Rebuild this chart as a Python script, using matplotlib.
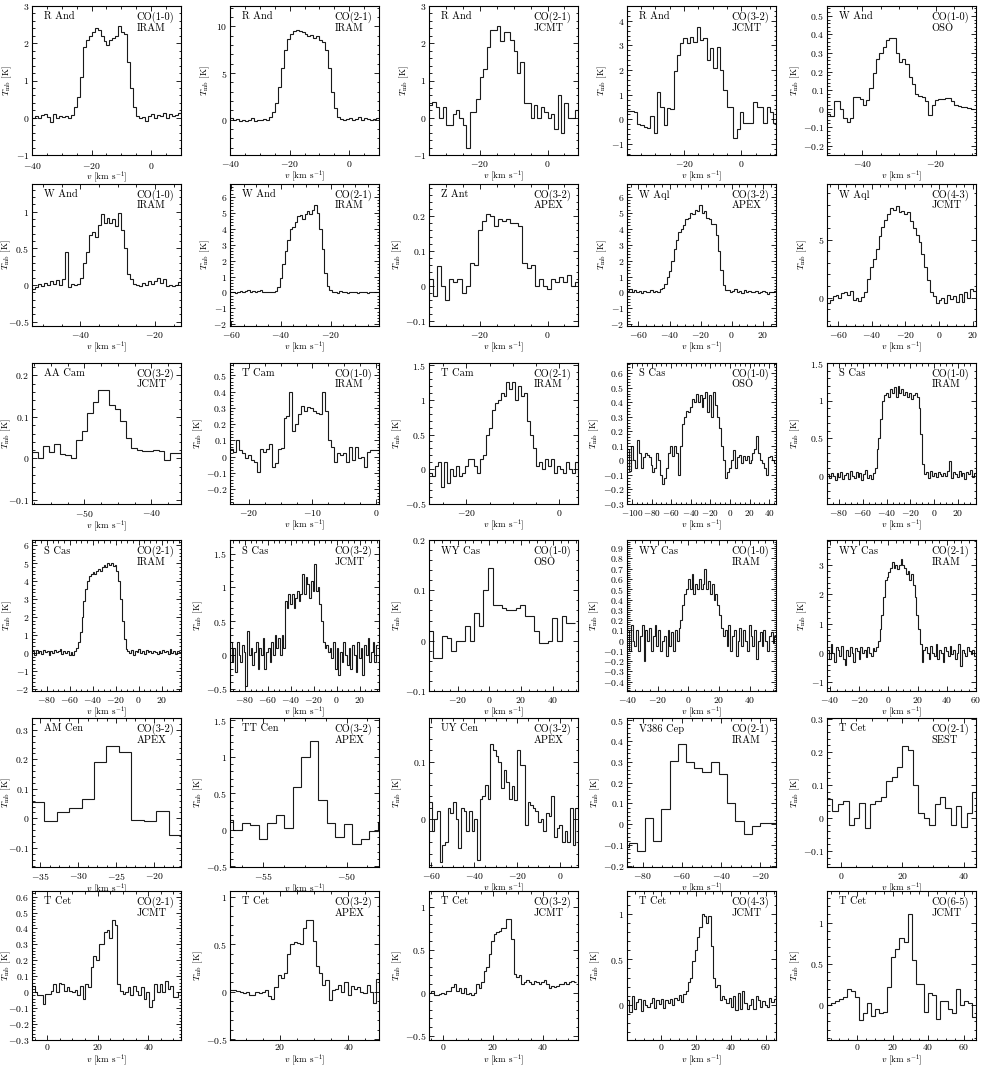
import numpy as np
import matplotlib
matplotlib.use("Agg")
import matplotlib.pyplot as plt
from matplotlib.ticker import MultipleLocator, AutoMinorLocator, FuncFormatter

plt.rcParams['font.family'] = 'serif'
plt.rcParams['font.serif'] = ['cmr10']
plt.rcParams['mathtext.fontset'] = 'cm'
plt.rcParams['axes.formatter.use_mathtext'] = True

# ---- spectra: (left edge of first channel, channel width) and Tmb values ----
r_and_10_iram_v = (-40.0, 1.0)
r_and_10_iram = [0.0, 0.05, -0.02, 0.08, 0.1, 0.02, -0.12, 0.1, 0.0, 0.05,
                 0.02, 0.05, 0.0, 0.08, 0.3, 0.55, 1.1, 1.9, 2.1, 2.2,
                 2.3, 2.4, 2.35, 2.2, 2.05, 1.95, 2.1, 2.15, 2.2, 2.45,
                 2.3, 2.25, 1.5, 0.8, 0.3, 0.05, 0.0, 0.02, -0.1, 0.05,
                 0.1, -0.02, 0.08, 0.05, 0.12, 0.0, 0.1, 0.05, 0.08, 0.12]

r_and_21_iram_v = (-40.0, 1.0)
r_and_21_iram = [0.2, 0.0, 0.1, -0.1, 0.0, -0.1, 0.0, 0.2, -0.1, 0.0, 0.0, 0.1, 0.0,
                 0.3, 0.8, 1.8, 3.5, 5.5, 7.5, 8.7, 9.2, 9.5, 9.6, 9.5, 9.4, 9.2,
                 9.0, 9.1, 8.8, 9.0, 8.6, 8.3, 7.5, 5.5, 3.0, 1.2, 0.3, 0.1,
                 0.0, 0.1, 0.2, 0.0, 0.1, 0.3, 0.0, 0.2, 0.1, 0.0, 0.1, 0.2]

r_and_21_jcmt_v = (-35.0, 1.0)
r_and_21_jcmt = [0.35, 0.42, 0.3, 0.0, 0.3, -0.2, -0.2, 0.1, 0.2, 0.0,
                 -0.2, -0.8, 0.15, 0.15, 0.5, 1.1, 1.3, 1.9, 2.35, 2.35,
                 2.45, 2.05, 2.3, 2.3, 2.1, 1.8, 1.2, 1.5, 0.4, 0.4,
                 0.0, 0.35, 0.0, 0.3, 0.15, 0.0, 0.1, -0.3, 0.6, -0.4,
                 0.4, 0.0, 0.0, 0.2]

r_and_32_jcmt_v = (-39.8, 1.155)
r_and_32_jcmt = [0.35, 0.35, 0.3, -0.2, -0.25, -0.3, -0.35, 0.15, -0.55, 1.1,
                 0.5, -0.25, 0.45, 0.4, 1.95, 2.6, 3.1, 3.3, 3.1, 3.35,
                 3.15, 3.75, 3.2, 3.3, 2.4, 2.9, 2.1, 2.95, 2.0, 1.2,
                 0.5, 0.5, -0.75, -0.4, 0.3, -0.15, -0.15, -0.15, 0.7, 0.5,
                 0.5, -0.15, 0.5, 0.3, -0.15]

w_and_10_oso_v = (-49.6, 0.89)
w_and_10_oso = [-0.03, -0.04, 0.04, 0.04, 0.0, -0.05, -0.07, -0.05, 0.06, 0.06,
                0.05, 0.02, 0.045, 0.11, 0.19, 0.27, 0.3, 0.33, 0.37, 0.38,
                0.38, 0.3, 0.25, 0.27, 0.24, 0.17, 0.13, 0.08, 0.07, 0.06,
                0.04, -0.035, 0.02, 0.045, 0.05, 0.05, 0.055, 0.055, 0.04, 0.02,
                0.015, 0.01, 0.01, 0.005, 0.0]

w_and_10_iram_v = (-53.0, 0.8)
w_and_10_iram = [-0.05, -0.03, 0.02, -0.02, 0.03, 0.0, 0.05, 0.02, 0.07, 0.0,
                 0.08, 0.45, -0.03, 0.02, 0.0, 0.02, 0.1, 0.3, 0.45, 0.68,
                 0.72, 0.65, 0.82, 0.97, 0.85, 0.92, 0.85, 0.9, 0.8, 0.98,
                 0.75, 0.5, 0.15, 0.08, 0.02, 0.0, -0.02, 0.03, 0.0, 0.06,
                 0.02, 0.05, 0.1, 0.03, 0.08, -0.02, 0.0, -0.02, 0.0, 0.04]

w_and_21_iram_v = (-60.5, 1.0)
w_and_21_iram = [0.0, 0.05, -0.05, 0.0, 0.1, 0.05, 0.1, 0.15, 0.05, 0.1,
                 0.0, 0.1, 0.15, 0.05, 0.0, 0.05, 0.0, 0.05,
                 0.1, 0.35, 0.9, 1.8, 2.6, 3.3, 4.0, 4.1, 4.4, 4.8, 4.85, 4.6,
                 4.9, 5.1, 4.9, 5.2, 5.5, 5.0, 4.0, 2.7, 1.2, 0.4, 0.15, 0.05,
                 0.0, -0.05, 0.1, 0.0, 0.05, -0.05, 0.0, 0.05, 0.0, -0.05,
                 0.0, 0.05, 0.0, -0.05, 0.0, 0.05, 0.0, 0.0]

z_ant_32_apex_v = (-35.0, 1.2)
z_ant_32_apex = [0.02, -0.03, 0.055, 0.0, -0.04, 0.02, 0.01, 0.02, -0.02, 0.0,
                 0.065, 0.06, 0.16, 0.185, 0.205, 0.2, 0.17, 0.19, 0.185, 0.19,
                 0.18, 0.18, 0.17, 0.065, 0.05, 0.06, 0.0, 0.02, 0.0, -0.01,
                 0.02, 0.01, 0.025, 0.01, 0.03, 0.0, 0.01]

w_aql_32_apex_v = (-67.4, 1.5)
w_aql_32_apex = [0.1, 0.2, 0.0, 0.15, 0.05, 0.1, -0.05, 0.1, 0.0, 0.05, 0.15, 0.0, 0.1, 0.05, 0.2,
                 0.3, 0.55, 1.0, 1.35, 2.0, 2.7, 3.3, 3.8,
                 4.0, 4.2, 4.6, 4.7, 5.0, 4.9, 5.2, 5.1, 5.5, 5.0, 5.1, 4.7, 4.6, 4.3, 4.3,
                 3.6, 2.6, 1.4, 0.5, 0.15,
                 0.15, 0.0, 0.1, 0.2, 0.05, 0.1, -0.05, 0.15, 0.0, 0.1, 0.05, 0.0, 0.1,
                 -0.05, 0.05, 0.1, 0.0, -0.1, 0.05, 0.0, 0.1]

w_aql_43_jcmt_v = (-66.5, 1.7)
w_aql_43_jcmt = [-0.5, -0.2, 0.1, 0.2, 0.0, 0.4, 0.5, 0.2, 0.6, -0.2, 0.0, -0.3, 0.05,
                 0.5, 1.6, 2.6, 3.3, 4.2, 5.3, 6.1, 6.7, 7.2, 7.7, 7.6, 7.9, 7.4, 7.5,
                 7.2, 7.4, 6.6, 6.0, 5.4, 4.8, 3.8, 2.6, 1.5, 0.5, 0.1,
                 -0.5, -0.2, 0.0, -0.5, 0.2, -0.1, 0.1, -0.4, 0.3, -0.4, 0.5, 0.0, 0.7, 0.6]

aa_cam_32_jcmt_v = (-57.8, 0.82)
aa_cam_32_jcmt = [0.015, 0.0, 0.03, 0.015, 0.035, 0.01, 0.008, 0.0, 0.045, 0.065,
                  0.11, 0.135, 0.165, 0.165, 0.128, 0.12, 0.09, 0.05, 0.025, 0.02,
                  0.018, 0.018, 0.02, 0.018, -0.005, 0.013, 0.013]

t_cam_10_iram_v = (-22.9, 0.465)
t_cam_10_iram = [0.05, 0.03, 0.1, 0.04, 0.02, -0.01, 0.01, -0.02, -0.03, -0.095,
                 0.045, 0.03, 0.05, 0.08, -0.065, -0.04, 0.05, 0.055, 0.24, 0.25,
                 0.4, 0.16, 0.2, 0.26, 0.31, 0.28, 0.305, 0.3, 0.28, 0.27,
                 0.26, 0.4, 0.28, 0.1, 0.06, -0.03, 0.02, 0.01, 0.02, -0.03,
                 0.06, -0.02, 0.06, -0.01, 0.0, -0.06, 0.03, 0.04, 0.04, 0.04]

t_cam_21_iram_v = (-28.0, 0.64)
t_cam_21_iram = [-0.05, -0.1, 0.05, 0.1, -0.25, 0.1, -0.2, 0.0, -0.1, 0.05,
                 -0.1, -0.05, 0.05, 0.15, 0.15, 0.05, -0.05, 0.15, 0.2, 0.5, 0.6,
                 0.85, 0.95, 1.0, 1.1, 1.05, 1.25, 1.15, 1.25, 1.0, 1.2,
                 1.05, 1.1, 0.7, 0.5, 0.3, 0.05, 0.1, 0.0, 0.15, 0.05,
                 0.15, -0.05, 0.05, 0.0, -0.05, 0.1, 0.0, -0.05, 0.1, -0.05]

s_cas_10_oso_v = (-105.0, 2.0)
s_cas_10_oso = [0.08, -0.07, 0.1, 0.0, -0.05, 0.14, 0.05, -0.05, 0.02, 0.05,
                0.04, 0.02, -0.03, -0.08, -0.05, 0.05, 0.0, -0.1, -0.16, -0.12,
                -0.05, 0.05, 0.1, 0.03, 0.1, 0.05, -0.1, 0.1, 0.25, 0.3,
                0.34, 0.33, 0.37, 0.42, 0.4, 0.46, 0.4, 0.45, 0.37, 0.43,
                0.47, 0.33, 0.45, 0.3, 0.47, 0.38, 0.3, 0.22, 0.1, 0.0,
                -0.12, -0.08, -0.05, 0.0, 0.07, -0.05, 0.02, 0.04, -0.02, 0.03,
                0.0, 0.03, -0.02, 0.0, 0.05, 0.08, 0.17, 0.05, 0.0, -0.02,
                -0.05, -0.1, 0.02, 0.03, 0.0, -0.02]

s_cas_10_iram_v = (-90.0, 1.6)
s_cas_10_iram = [0.02, -0.03, 0.04, 0.0, -0.06, 0.03, -0.02, 0.05, -0.04, 0.01,
                 0.03, -0.05, 0.06, 0.0, -0.03, 0.05, -0.02, 0.04, -0.06, 0.02,
                 0.07, -0.03, 0.01, -0.04, 0.03,
                 0.1, 0.35, 0.5, 0.75, 1.0, 1.08, 1.1, 1.05, 1.15, 1.1,
                 1.18, 1.05, 1.2, 1.1, 1.15, 1.08, 1.12, 1.05, 1.1, 1.02,
                 1.08, 1.1, 1.05, 0.9, 0.55, 0.15, 0.02,
                 0.05, -0.03, 0.06, 0.0, 0.04, -0.02, 0.05, 0.02, -0.01, 0.04,
                 0.0, 0.06, 0.2, -0.03, 0.05, 0.02, -0.02, 0.06, 0.0, 0.04,
                 -0.05, 0.05, 0.02, 0.07, -0.02, 0.03]

s_cas_21_iram_v = (-93.0, 1.6)
s_cas_21_iram = [0.1, -0.1, 0.2, 0.0, 0.15, -0.05, 0.2, 0.05, 0.1, -0.1,
                 0.15, 0.0, 0.2, 0.05, 0.1, 0.25, -0.05, 0.1, 0.0, 0.15,
                 -0.1, 0.05, -0.1, 0.1,
                 0.3, 0.6, 1.2, 2.0, 2.9, 3.6, 4.0, 4.3, 4.4, 4.5,
                 4.4, 4.6, 4.7, 4.6, 4.8, 4.9, 4.8, 5.0, 4.9, 5.0,
                 4.85, 4.9, 4.6, 4.0, 3.0, 1.8, 0.8, 0.25,
                 0.1, 0.0, 0.2, -0.1, 0.15, 0.05, 0.25, 0.0, 0.1, -0.05,
                 0.2, 0.05, 0.15, 0.0, 0.1, 0.05, -0.05, 0.15, 0.0, 0.2,
                 0.05, 0.1, -0.05, 0.25, 0.0, 0.15, -0.05, 0.1, 0.05]

s_cas_32_jcmt_v = (-93.0, 1.5)
s_cas_32_jcmt = [0.2, -0.1, 0.1, -0.25, 0.2, 0.0, -0.1, 0.15, 0.05, -0.45,
                 0.35, 0.0, 0.1, -0.15, 0.05, 0.2, -0.2, 0.1, 0.0, 0.25,
                 -0.2, 0.05, 0.1, -0.1, 0.2, 0.0, 0.3, 0.1, 0.25, 0.0, 0.3, 0.1,
                 0.8, 0.7, 0.9, 0.75, 0.9, 0.7, 0.85, 0.95, 0.8, 0.9,
                 1.2, 0.9, 1.15, 1.05, 0.85, 1.1, 0.95, 1.35, 0.95, 1.0,
                 0.75, 0.5, 0.2, 0.1,
                 0.15, 0.05, 0.1, -0.05, 0.2, -0.2, 0.1, -0.3, 0.05, -0.1,
                 0.2, 0.0, -0.15, 0.1, -0.2, 0.15, 0.0, -0.25, 0.2, -0.05,
                 0.1, -0.3, 0.15, 0.0, 0.25, -0.1, 0.05, 0.2, -0.1, 0.15]

wy_cas_10_oso_v = (-38.5, 2.9)
wy_cas_10_oso = [0.02, -0.035, -0.035, 0.01, 0.005, -0.02, 0.0, 0.0, 0.03, 0.0,
                 0.055, 0.03, 0.1, 0.145, 0.07, 0.07, 0.065, 0.06, 0.06, 0.065,
                 0.07, 0.05, 0.05, 0.02, -0.005, -0.005, 0.0, 0.045, 0.0, 0.05,
                 0.035, 0.035]

wy_cas_10_iram_v = (-40.0, 1.2)
wy_cas_10_iram = [0.1, -0.1, 0.15, 0.0, -0.05, 0.1, -0.1, 0.05, 0.15, -0.2,
                  0.1, 0.0, 0.12, -0.1, 0.05, 0.15, -0.05, 0.1, -0.1, 0.0,
                  0.05, -0.15, 0.1, -0.05, 0.08, -0.1, 0.1, 0.0, 0.12,
                  0.2, 0.35, 0.45, 0.5, 0.6, 0.5, 0.65, 0.45, 0.55, 0.5,
                  0.6, 0.5, 0.55, 0.7, 0.5, 0.58, 0.45, 0.55, 0.4, 0.45,
                  0.35, 0.25, 0.12, 0.05,
                  0.1, -0.05, 0.15, -0.1, 0.05, 0.1, -0.15, 0.0, 0.12, -0.05,
                  0.1, 0.0, -0.1, 0.15, 0.05, -0.05, 0.1, -0.18, 0.0, 0.08,
                  -0.05, 0.1, 0.0, -0.1, 0.05, 0.08, -0.02, 0.05]

wy_cas_21_iram_v = (-42.0, 1.2)
wy_cas_21_iram = [0.1, -0.2, 0.3, 0.0, -0.3, 0.2, 0.1, -0.1, 0.25, -0.2,
                  -0.4, 0.1, -0.1, 0.2, 0.0, -0.3, 0.15, 0.05, -0.2, 0.2,
                  0.0, 0.1, -0.15, 0.2, 0.0, -0.1, 0.15, 0.05, 0.2,
                  0.4, 0.8, 1.3, 1.9, 2.5, 2.6, 2.75, 2.9, 3.1, 2.9,
                  3.0, 2.85, 3.0, 3.2, 3.0, 2.9, 2.7, 2.8, 2.5, 2.7,
                  2.3, 1.9, 1.3, 0.8, 0.3, -0.3, 0.1,
                  0.2, 0.0, -0.2, 0.25, 0.0, -0.1, 0.3, -0.2, 0.1, 0.0,
                  -0.3, 0.2, 0.05, -0.1, 0.25, -0.05, 0.1, -0.2, 0.0, 0.3,
                  -0.45, 0.1, 0.0, -0.1, 0.2, 0.05, -0.05, 0.1, -0.1]

am_cen_32_apex_v = (-36.1, 1.633)
am_cen_32_apex = [0.055, -0.01, 0.02, 0.035, 0.065, 0.19, 0.245, 0.225, -0.005, -0.01,
                  0.025, -0.055]

tt_cen_32_apex_v = (-57.31, 0.51)
tt_cen_32_apex = [0.13, 0.0, 0.09, 0.06, -0.13, 0.09, 0.2, 0.02, 0.58, 0.99,
                  1.22, 0.41, 0.09, -0.1, 0.08, -0.2, -0.12, -0.02, 0.1]

uy_cen_32_apex_v = (-61.0, 1.24)
uy_cen_32_apex = [0.03, -0.02, 0.0, 0.015, -0.075, -0.045, -0.04, 0.02, 0.01, 0.03,
                  0.0, -0.05, 0.02, 0.015, -0.02, 0.015, -0.02, 0.0, -0.07, 0.035,
                  0.04, 0.06, 0.035,
                  0.13, 0.12, 0.11, 0.1, 0.055, 0.085, 0.065, 0.035, 0.057, 0.034,
                  0.12, 0.095, 0.095, -0.01, 0.03, 0.025, 0.02, 0.015, -0.005, 0.0,
                  -0.02, 0.01, 0.005, 0.04, -0.03, -0.015, -0.01, -0.04, -0.02, -0.04,
                  0.02, -0.045, 0.02]

v386_cep_21_iram_v = (-91.4, 4.19)
v386_cep_21_iram = [-0.11, -0.09, -0.13, 0.03, -0.08, 0.075, 0.305, 0.385, 0.3, 0.27,
                    0.25, 0.3, 0.24, 0.1, 0.015, -0.045, -0.01, 0.005, 0.005]

t_cet_21_sest_v = (-4.5, 1.75)
t_cet_21_sest = [0.057, 0.02, 0.043, 0.05, -0.02, 0.0, 0.045, -0.03, 0.042, 0.052,
                 0.063, 0.112, 0.125, 0.155, 0.218, 0.205, 0.1, 0.015, 0.0, -0.022,
                 0.042, 0.062, 0.03, -0.02, 0.037, -0.028, 0.015, 0.078]

t_cet_21_jcmt_v = (-6.0, 1.054)
t_cet_21_jcmt = [0.04, 0.0, -0.02, -0.02, -0.075, -0.01, -0.01, 0.01, 0.05, 0.0,
                 0.06, 0.05, 0.01, 0.035, 0.01, 0.0, 0.015, -0.015, 0.04, -0.045,
                 0.05, 0.03, 0.155, 0.225, 0.2, 0.3, 0.3, 0.375, 0.39, 0.34,
                 0.45, 0.42, 0.05, 0.01, -0.01, 0.0, 0.03, -0.02, 0.04, 0.01,
                 -0.02, 0.03, -0.04, 0.0, -0.09, -0.05, 0.05, 0.0, 0.05, 0.0,
                 0.07, 0.02, 0.04, -0.03, -0.03, 0.0]

t_cet_32_apex_v = (5.4, 0.93)
t_cet_32_apex = [0.02, 0.02, 0.01, 0.0, -0.01, 0.0, -0.04, -0.04, 0.0, -0.02,
                 0.0, 0.02, -0.05, -0.08, 0.05, 0.17, 0.14, 0.2, 0.4, 0.5,
                 0.52, 0.51, 0.5, 0.67, 0.75, 0.75, 0.53, 0.27, 0.2, 0.07,
                 0.12, -0.09, 0.02, 0.03, 0.07, 0.0, 0.1, -0.04, 0.06, 0.03,
                 0.05, 0.0, -0.02, 0.07, 0.0, -0.12, 0.13]

t_cet_32_jcmt_v = (-5.7, 1.0)
t_cet_32_jcmt = [0.0, 0.02, -0.03, -0.03, -0.02, 0.0, -0.02, 0.02, 0.02, 0.06,
                 0.1, 0.02, 0.05, 0.0, 0.05, -0.02, 0.0, -0.03, 0.0, 0.1,
                 0.05, 0.12, 0.25, 0.3,
                 0.45, 0.6, 0.68, 0.7, 0.72, 0.75, 0.75, 0.86, 0.86, 0.62,
                 0.22, 0.18, 0.2, 0.1, 0.12, 0.15, 0.12, 0.1, 0.14, 0.12,
                 0.1, 0.12, 0.15, 0.1, 0.05, 0.08, 0.07, 0.08, 0.1, 0.1,
                 0.12, 0.1, 0.12, 0.14, 0.12]

t_cet_43_jcmt_v = (-19.8, 1.3)
t_cet_43_jcmt = [0.05, -0.08, 0.1, -0.05, 0.03, 0.07, -0.07, 0.05, 0.0, -0.02,
                 0.02, 0.08, -0.03, 0.05, 0.01, 0.06, -0.03, 0.05, 0.02, 0.07,
                 0.0, 0.08, 0.05, 0.11, 0.03, 0.12,
                 0.15, 0.25, 0.3, 0.48, 0.6, 0.75, 0.85, 1.0, 0.98, 0.9,
                 0.98, 0.65, 0.3, 0.2, 0.22, 0.05,
                 0.1, 0.06, 0.02, 0.08, -0.02, 0.1, -0.06, 0.13, -0.05, 0.15,
                 0.02, -0.05, 0.0, 0.06, -0.04, 0.1, 0.05, -0.02, 0.04, 0.0,
                 -0.02, 0.08, 0.03, 0.06]

t_cet_65_jcmt_v = (-17.0, 2.27)
t_cet_65_jcmt = [0.0, 0.02, 0.05, 0.07, 0.1, 0.2, 0.17, 0.1, -0.18, -0.1,
                 0.02, -0.13, -0.05, -0.1, -0.08, 0.22, 0.58, 0.68, 0.82, 0.77,
                 1.1, 0.55, 0.25, 0.25, -0.08, 0.14, 0.12, -0.17, 0.05, 0.05,
                 -0.05, -0.1, 0.2, 0.0, 0.05, 0.03, -0.15]

# ---- panel labels ----
stars = ["R And", "R And", "R And", "R And", "W And",
         "W And", "W And", "Z Ant", "W Aql", "W Aql",
         "AA Cam", "T Cam", "T Cam", "S Cas", "S Cas",
         "S Cas", "S Cas", "WY Cas", "WY Cas", "WY Cas",
         "AM Cen", "TT Cen", "UY Cen", "V386 Cep", "T Cet",
         "T Cet", "T Cet", "T Cet", "T Cet", "T Cet"]
lines = ["CO(1-0)", "CO(2-1)", "CO(2-1)", "CO(3-2)", "CO(1-0)",
         "CO(1-0)", "CO(2-1)", "CO(3-2)", "CO(3-2)", "CO(4-3)",
         "CO(3-2)", "CO(1-0)", "CO(2-1)", "CO(1-0)", "CO(1-0)",
         "CO(2-1)", "CO(3-2)", "CO(1-0)", "CO(1-0)", "CO(2-1)",
         "CO(3-2)", "CO(3-2)", "CO(3-2)", "CO(2-1)", "CO(2-1)",
         "CO(2-1)", "CO(3-2)", "CO(3-2)", "CO(4-3)", "CO(6-5)"]
telescopes = ["IRAM", "IRAM", "JCMT", "JCMT", "OSO",
              "IRAM", "IRAM", "APEX", "APEX", "JCMT",
              "JCMT", "IRAM", "IRAM", "OSO", "IRAM",
              "IRAM", "JCMT", "OSO", "IRAM", "IRAM",
              "APEX", "APEX", "APEX", "IRAM", "SEST",
              "JCMT", "APEX", "JCMT", "JCMT", "JCMT"]

spectra = [
    (r_and_10_iram_v, r_and_10_iram), (r_and_21_iram_v, r_and_21_iram),
    (r_and_21_jcmt_v, r_and_21_jcmt), (r_and_32_jcmt_v, r_and_32_jcmt),
    (w_and_10_oso_v, w_and_10_oso),
    (w_and_10_iram_v, w_and_10_iram), (w_and_21_iram_v, w_and_21_iram),
    (z_ant_32_apex_v, z_ant_32_apex), (w_aql_32_apex_v, w_aql_32_apex),
    (w_aql_43_jcmt_v, w_aql_43_jcmt),
    (aa_cam_32_jcmt_v, aa_cam_32_jcmt), (t_cam_10_iram_v, t_cam_10_iram),
    (t_cam_21_iram_v, t_cam_21_iram), (s_cas_10_oso_v, s_cas_10_oso),
    (s_cas_10_iram_v, s_cas_10_iram),
    (s_cas_21_iram_v, s_cas_21_iram), (s_cas_32_jcmt_v, s_cas_32_jcmt),
    (wy_cas_10_oso_v, wy_cas_10_oso), (wy_cas_10_iram_v, wy_cas_10_iram),
    (wy_cas_21_iram_v, wy_cas_21_iram),
    (am_cen_32_apex_v, am_cen_32_apex), (tt_cen_32_apex_v, tt_cen_32_apex),
    (uy_cen_32_apex_v, uy_cen_32_apex), (v386_cep_21_iram_v, v386_cep_21_iram),
    (t_cet_21_sest_v, t_cet_21_sest),
    (t_cet_21_jcmt_v, t_cet_21_jcmt), (t_cet_32_apex_v, t_cet_32_apex),
    (t_cet_32_jcmt_v, t_cet_32_jcmt), (t_cet_43_jcmt_v, t_cet_43_jcmt),
    (t_cet_65_jcmt_v, t_cet_65_jcmt),
]

# ---- axis ranges and major tick steps (x step, y step) ----
xlims = [(-40, 10), (-40, 10), (-35, 9), (-39.8, 12), (-49.6, -9),
         (-53, -13), (-60.5, -0.5), (-35, 9), (-67.4, 28.5), (-66.5, 22),
         (-57.8, -35.6), (-22.9, 0.4), (-28, 4), (-105, 47), (-90, 35),
         (-93, 37), (-93, 37), (-38, 56), (-40, 57), (-42, 60),
         (-36.1, -16.5), (-57, -48.05), (-61, 8.4), (-88, -12), (-4.5, 44),
         (-6, 53), (5.4, 49), (-5.7, 54), (-19.8, 66), (-17, 67)]
ylims = [(-1, 3), (-3.8, 12.2), (-1, 3), (-1.45, 4.6), (-0.25, 0.553),
         (-0.56, 1.38), (-2.1, 6.8), (-0.115, 0.29), (-2.1, 6.8), (-2.45, 9.8),
         (-0.11, 0.23), (-0.29, 0.575), (-0.5, 1.53), (-0.3, 0.67), (-0.38, 1.5),
         (-2.1, 6.3), (-0.53, 1.7), (-0.1, 0.2), (-0.49, 0.98), (-1.3, 3.85),
         (-0.165, 0.34), (-0.51, 1.53), (-0.083, 0.176), (-0.205, 0.51), (-0.148, 0.302),
         (-0.3, 0.635), (-0.51, 1.06), (-0.55, 1.18), (-0.385, 1.25), (-0.425, 1.385)]
steps = [(20, 1), (20, 5), (20, 1), (20, 1), (20, 0.1),
         (20, 0.5), (20, 1), (20, 0.1), (20, 1), (20, 5),
         (10, 0.1), (10, 0.1), (20, 0.5), (20, 0.1), (20, 0.5),
         (20, 1), (20, 0.5), (20, 0.1), (20, 0.1), (20, 1),
         (5, 0.1), (5, 0.5), (20, 0.1), (20, 0.1), (20, 0.1),
         (20, 0.1), (20, 0.5), (20, 0.5), (20, 0.5), (20, 0.5)]

W, H = 981, 1067
col_left = [32, 230, 429, 627, 827]
row_top = [6, 184, 363, 540, 718, 891]
row_bot = [155, 326, 504, 691, 867, 1040]
pw = 149


def tick_fmt(x, pos):
    if abs(x) < 1e-9:
        x = 0.0
    return f"${x:g}$"


fig = plt.figure(figsize=(W / 100, H / 100), dpi=100)
axes = []

for k in range(30):
    r, c = divmod(k, 5)
    ax = fig.add_axes([col_left[c] / W, 1 - row_bot[r] / H, pw / W,
                       (row_bot[r] - row_top[r]) / H])
    (v_lo, dv), T = spectra[k]
    edges = v_lo + dv * np.arange(len(T) + 1)
    ax.stairs(T, edges, baseline=None, color='#1a1a1a', lw=0.8)
    ax.set_xlim(*xlims[k])
    ax.set_ylim(*ylims[k])
    ax.xaxis.set_major_locator(MultipleLocator(steps[k][0]))
    ax.yaxis.set_major_locator(MultipleLocator(steps[k][1]))
    ax.xaxis.set_minor_locator(AutoMinorLocator(4))
    ax.yaxis.set_minor_locator(AutoMinorLocator(5))
    ax.xaxis.set_major_formatter(FuncFormatter(tick_fmt))
    ax.yaxis.set_major_formatter(FuncFormatter(tick_fmt))
    ax.tick_params(which='both', direction='in', top=True, right=True,
                   labelsize=7, width=0.6, pad=2)
    ax.tick_params(which='major', length=3.5)
    ax.tick_params(which='minor', length=1.8)
    xpad = 1.5 if r == 5 else 2.6
    if k == 0:
        xpad = 4.0
    ax.tick_params(axis='x', pad=xpad)
    if k == 13:
        ax.tick_params(axis='x', labelsize=6.6)
    for s in ax.spines.values():
        s.set_linewidth(0.8)
    ax.set_xlabel(r'$v$ [km s$^{-1}$]', fontsize=6.5,
                  labelpad=-1 if k == 0 else 0)
    ax.set_ylabel(r'$T_{\rm mb}$ [K]', fontsize=6.5)
    ax.text(0.08, 0.96, stars[k], transform=ax.transAxes, va='top',
            ha='left', fontsize=7.5)
    ax.text(0.70, 0.96, lines[k] + '\n' + telescopes[k], transform=ax.transAxes,
            va='top', ha='left', fontsize=7.5, linespacing=1.0)
    axes.append((ax, col_left[c]))

# place the y labels just left of the tick labels, but inside the figure
fig.canvas.draw()
renderer = fig.canvas.get_renderer()
for ax, left_px in axes:
    widths = [t.get_window_extent(renderer).width
              for t in ax.get_yticklabels() if t.get_text()]
    off = max(widths) + 4
    off = min(off, left_px - 13)
    ax.yaxis.set_label_coords(-off / pw, 0.5)

fig.savefig('out.png', dpi=100)
